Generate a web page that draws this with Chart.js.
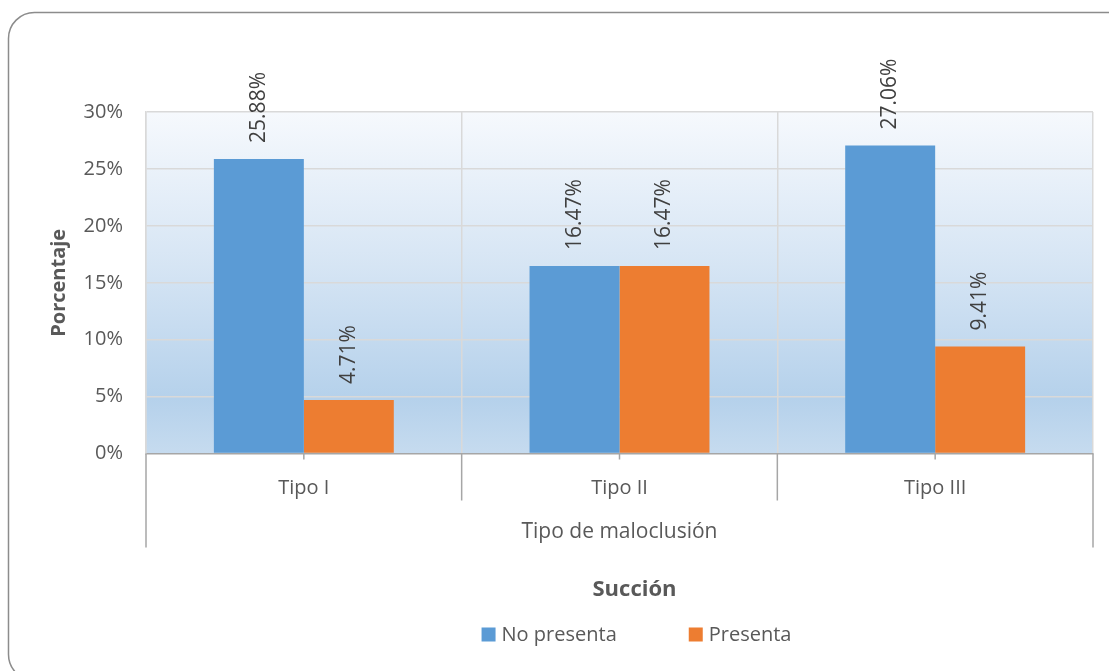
<!DOCTYPE html>
<html>
<head>
<meta charset="utf-8">
<script src="https://cdn.jsdelivr.net/npm/chart.js@4.4.1/dist/chart.umd.min.js"></script>
<style>
  html, body { margin: 0; padding: 0; background: #ffffff; }
  #wrap { width: 1109px; height: 671px; position: relative; }
</style>
</head>
<body>
<div id="wrap"><canvas id="chart" width="1109" height="671"></canvas></div>
<script>
// Malocclusion type by sucking habit (percent of patients)
const categories = ['Tipo I', 'Tipo II', 'Tipo III'];
const seriesNames = ['No presenta', 'Presenta'];
const noPresenta = [25.88, 16.47, 27.06];
const presenta = [4.71, 16.47, 9.41];
const yTicks = [0, 5, 10, 15, 20, 25, 30];
const seriesColors = ['#5b9bd5', '#ed7d31'];

const TEXT = '#595959';
const FONT = "'Open Sans', 'Noto Sans', sans-serif";
Chart.defaults.font.family = FONT;
Chart.defaults.font.size = 20;
Chart.defaults.color = TEXT;

function roundedRect(ctx, x, y, w, h, r) {
  ctx.beginPath();
  ctx.moveTo(x + r, y);
  ctx.lineTo(x + w - r, y);
  ctx.arcTo(x + w, y, x + w, y + r, r);
  ctx.lineTo(x + w, y + h - r);
  ctx.arcTo(x + w, y + h, x + w - r, y + h, r);
  ctx.lineTo(x + r, y + h);
  ctx.arcTo(x, y + h, x, y + h - r, r);
  ctx.lineTo(x, y + r);
  ctx.arcTo(x, y, x + r, y, r);
  ctx.closePath();
}

// White card with rounded frame and a soft blue gradient behind the plot
const backdrop = {
  id: 'backdrop',
  beforeDraw(chart) {
    const { ctx, chartArea: a } = chart;
    ctx.save();
    ctx.fillStyle = '#ffffff';
    ctx.fillRect(0, 0, chart.width, chart.height);
    roundedRect(ctx, 8.5, 12.5, 1125, 668, 26);
    ctx.strokeStyle = '#8c8c8c';
    ctx.lineWidth = 1.5;
    ctx.stroke();
    const g = ctx.createLinearGradient(0, a.top, 0, a.bottom);
    g.addColorStop(0, '#f6f9fd');
    g.addColorStop(0.45, '#d6e5f4');
    g.addColorStop(0.84, '#b5d1eb');
    g.addColorStop(1, '#c6dbef');
    ctx.fillStyle = g;
    ctx.fillRect(a.left, a.top, a.right - a.left, a.bottom - a.top);
    ctx.restore();
  }
};

// Category separators and group frame below the x axis
const axisFrame = {
  id: 'axisFrame',
  afterDraw(chart) {
    const { ctx, chartArea: a } = chart;
    const xs = chart.scales.x;
    const n = categories.length;
    const y0 = a.bottom;
    ctx.save();
    ctx.strokeStyle = '#a6a6a6';
    ctx.lineWidth = 1.5;
    ctx.beginPath();
    for (let i = 0; i <= n; i++) {
      let x;
      if (i === 0) x = a.left;
      else if (i === n) x = a.right;
      else x = (xs.getPixelForValue(i - 1) + xs.getPixelForValue(i)) / 2;
      const len = (i === 0 || i === n) ? 94 : 47;
      ctx.moveTo(x, y0);
      ctx.lineTo(x, y0 + len);
    }
    for (let i = 0; i < n; i++) {
      const x = xs.getPixelForValue(i);
      ctx.moveTo(x, y0);
      ctx.lineTo(x, y0 + 6);
    }
    ctx.stroke();
    ctx.restore();
  }
};

// Vertical value labels above each bar
const valueLabels = {
  id: 'valueLabels',
  afterDatasetsDraw(chart) {
    const { ctx } = chart;
    ctx.save();
    ctx.fillStyle = '#404040';
    ctx.font = '21px ' + FONT;
    ctx.textAlign = 'left';
    ctx.textBaseline = 'middle';
    chart.data.datasets.forEach((ds, di) => {
      chart.getDatasetMeta(di).data.forEach((bar, i) => {
        ctx.save();
        ctx.translate(bar.x, bar.y - 16);
        ctx.rotate(-Math.PI / 2);
        ctx.fillText(ds.data[i].toFixed(2) + '%', 0, 0);
        ctx.restore();
      });
    });
    ctx.restore();
  }
};

// Legend row under the title, with wide spacing between entries
const legendRow = {
  id: 'legendRow',
  afterLayout(chart) {
    const t = chart.titleBlock;
    if (t) { t.left += 15; t.right += 15; }
  },
  afterDraw(chart) {
    const { ctx, chartArea: a } = chart;
    const box = 14, gap = 6, itemGap = 72;
    const cy = 634.5;
    ctx.save();
    ctx.font = '20px ' + FONT;
    ctx.textBaseline = 'middle';
    ctx.textAlign = 'left';
    const items = chart.data.datasets.map(ds => ({
      label: ds.label, color: ds.backgroundColor, w: ctx.measureText(ds.label).width
    }));
    let total = items.reduce((s, it) => s + box + gap + it.w, 0) + itemGap * (items.length - 1);
    let x = (a.left + a.right) / 2 + 17 - total / 2;
    items.forEach(it => {
      ctx.fillStyle = it.color;
      ctx.fillRect(x, cy - box / 2, box, box);
      ctx.fillStyle = TEXT;
      ctx.fillText(it.label, x + box + gap, cy + 1);
      x += box + gap + it.w + itemGap;
    });
    ctx.restore();
  }
};

new Chart(document.getElementById('chart'), {
  type: 'bar',
  data: {
    labels: categories,
    datasets: [
      { label: seriesNames[0], data: noPresenta, backgroundColor: seriesColors[0] },
      { label: seriesNames[1], data: presenta, backgroundColor: seriesColors[1] }
    ]
  },
  options: {
    responsive: false,
    animation: false,
    events: [],
    layout: { padding: { top: 112, right: 16, bottom: 68, left: 0 } },
    datasets: { bar: { categoryPercentage: 0.57, barPercentage: 1 } },
    scales: {
      x: {
        grid: { offset: true, color: '#d9d9d9', lineWidth: 1.5, drawTicks: false },
        border: { color: '#a6a6a6', width: 1.5 },
        ticks: { color: TEXT, padding: 23, font: { size: 20 } },
        title: {
          display: true, text: 'Tipo de maloclusión', color: TEXT,
          font: { size: 21 }, padding: { top: 0, bottom: 0 }
        },
        afterFit(s) { s.height = 91; }
      },
      y: {
        min: 0, max: 30,
        afterBuildTicks(s) { s.ticks = yTicks.map(v => ({ value: v })); },
        ticks: { padding: 23, color: TEXT, font: { size: 20 }, callback: v => v + '%' },
        grid: {
          drawTicks: false, lineWidth: 1.5,
          color: c => (c.tick && c.tick.value === 0) ? 'rgba(0,0,0,0)' : '#d9d9d9'
        },
        border: { color: '#d9d9d9', width: 1.5 },
        title: {
          display: true, text: 'Porcentaje', color: TEXT,
          font: { size: 20, weight: 'bold' }, padding: { top: 47, bottom: 0 }
        },
        afterFit(s) { s.width = 146; }
      }
    },
    plugins: {
      legend: { display: false },
      tooltip: { enabled: false },
      title: {
        display: true, text: 'Succión', position: 'bottom', color: TEXT,
        font: { size: 22, weight: 'bold' }, padding: { top: 32, bottom: 0 }, fullSize: false
      }
    }
  },
  plugins: [backdrop, axisFrame, valueLabels, legendRow]
});
</script>
</body>
</html>
